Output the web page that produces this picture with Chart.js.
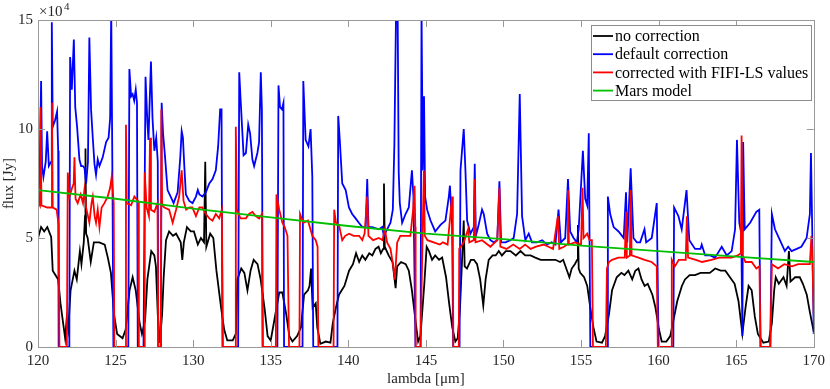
<!DOCTYPE html>
<html>
<head>
<meta charset="utf-8">
<script src="https://cdn.jsdelivr.net/npm/chart.js@4.4.1/dist/chart.umd.min.js"></script>
<style>
  html, body { margin: 0; padding: 0; background: #fff; }
</style>
</head>
<body>
<canvas id="fluxCanvas" width="830" height="389"></canvas>
<script>
// flux values are in units of 1e4 Jy (axis shows x10^4)
const xTickValues = [120, 125, 130, 135, 140, 145, 150, 155, 160, 165, 170];
const yTickValues = [0, 5, 10, 15];

const lamNoCorr = [120.0,120.2,120.4,120.6,120.85,120.95,121.3,121.45,121.6,121.75,121.85,121.95,122.1,122.35,122.5,122.7,122.8,122.95,123.03,123.06,123.1,123.2,123.4,123.6,123.95,124.3,124.5,124.7,124.9,125.1,125.45,125.65,125.9,126.1,126.3,126.55,126.7,126.9,127.05,127.3,127.5,127.6,127.72,127.85,128.0,128.1,128.25,128.45,128.7,128.9,129.2,129.3,129.4,129.6,129.85,130.05,130.3,130.5,130.7,130.78,130.85,131.1,131.3,131.5,131.8,132.0,132.2,132.55,132.75,132.85,133.1,133.3,133.5,133.7,133.9,134.15,134.35,134.6,134.8,135.0,135.2,135.55,135.75,136.0,136.2,136.4,136.7,136.95,137.15,137.4,137.5,137.6,137.7,137.9,138.0,138.2,138.55,138.85,139.0,139.2,139.4,139.75,140.05,140.3,140.5,140.7,140.9,141.1,141.35,141.55,141.75,141.95,142.1,142.25,142.3,142.35,142.6,142.85,143.05,143.15,143.4,143.7,143.9,144.1,144.35,144.5,144.65,144.9,145.05,145.2,145.4,145.6,145.85,146.05,146.3,146.5,146.7,146.9,147.05,147.2,147.35,147.44,147.5,147.65,147.9,148.1,148.3,148.5,148.7,148.85,149.05,149.3,149.5,149.7,149.9,150.15,150.45,150.8,151.1,151.4,151.75,152.05,152.4,152.9,153.35,153.65,153.85,154.1,154.25,154.4,154.6,154.75,154.8,154.85,154.95,155.2,155.4,155.6,155.8,156.0,156.35,156.55,156.8,157.0,157.3,157.6,157.8,158.05,158.3,158.5,158.7,158.9,159.1,159.3,159.6,159.8,160.0,160.2,160.5,160.75,160.95,161.2,161.5,161.7,162.0,162.35,162.7,163.0,163.3,163.65,164.0,164.3,164.6,164.9,165.15,165.4,165.6,165.8,166.0,166.2,166.4,166.75,167.1,167.3,167.45,167.55,167.75,168.05,168.25,168.4,168.5,168.8,169.1,169.3,169.55,169.75,170.0];
const fluxNoCorr = [5.0,5.5,5.3,5.5,5.05,3.5,3.1,2.0,1.2,0.4,1.3,0.8,2.6,3.5,3.1,4.4,3.8,4.8,6.0,9.1,5.2,5.0,3.9,4.8,4.8,4.7,4.1,3.4,1.5,0.6,0.4,0.8,2.6,3.2,2.6,1.1,0.6,1.2,3.1,4.4,4.2,3.7,1.5,0.2,1.5,3.2,4.9,5.3,5.1,5.2,4.8,4.0,4.8,5.5,5.3,5.3,4.7,5.0,4.8,8.5,4.6,5.2,5.0,3.5,1.8,0.8,0.3,0.3,0.6,3.1,3.6,3.4,2.6,3.5,4.0,3.8,3.1,1.8,0.5,0.3,1.1,2.5,2.5,1.5,0.5,0.25,0.5,0.9,2.4,2.6,2.8,3.6,1.8,2.0,0.9,0.15,0.25,0.2,1.1,1.8,2.4,2.8,3.5,3.8,4.3,3.9,4.2,4.0,4.3,4.2,4.5,4.6,4.3,4.5,7.5,4.6,4.2,3.9,2.7,3.7,3.9,3.8,3.5,2.6,1.1,0.25,0.5,2.9,4.6,4.4,4.0,4.2,4.0,4.1,3.2,2.0,0.9,0.25,0.4,1.8,4.3,5.8,3.7,3.6,4.0,4.0,3.8,3.1,1.9,3.1,4.0,4.2,4.2,4.4,4.2,4.4,4.4,4.2,4.4,4.2,4.2,4.1,4.0,4.0,4.0,3.9,4.0,3.5,3.2,3.6,3.8,4.0,5.6,3.6,3.4,3.2,2.8,1.8,0.9,0.25,0.2,0.5,1.5,2.6,3.2,3.4,3.3,3.5,3.1,3.5,3.6,3.1,2.8,2.9,2.4,1.8,0.9,0.25,0.25,0.5,1.2,2.1,2.8,3.1,3.3,3.3,3.4,3.4,3.4,3.6,3.5,3.5,3.2,2.9,2.1,0.6,1.8,2.8,2.6,1.4,0.6,0.2,0.25,1.1,2.6,3.2,2.9,3.2,2.8,4.4,3.0,3.2,3.2,2.9,2.4,1.6,0.7];

const lamDefault = [120.0,120.1,120.2,120.26,120.35,120.5,120.59,120.7,120.85,120.89,120.95,121.1,121.23,121.3,121.33,122.02,122.07,122.18,122.31,122.4,122.52,122.67,122.78,122.9,123.0,123.1,123.22,123.31,123.42,123.53,123.64,123.74,123.85,123.96,124.17,124.39,124.55,124.65,124.72,124.8,124.86,125.82,125.89,126.0,126.1,126.2,126.3,126.38,126.43,126.8,126.93,127.05,127.12,127.28,127.38,127.5,127.62,127.72,127.75,127.92,127.97,128.06,128.19,128.35,128.55,128.74,129.0,129.17,129.26,129.34,129.43,129.53,129.75,129.96,130.18,130.3,130.4,130.6,130.82,131.04,131.25,131.46,131.61,131.74,131.83,131.89,132.9,132.97,133.07,133.25,133.4,133.55,133.67,133.82,133.93,134.14,134.25,134.36,134.43,134.49,135.43,135.5,135.6,135.72,135.82,135.86,137.05,137.1,137.25,137.43,137.57,137.68,137.74,139.3,139.35,139.45,139.61,139.83,140.04,140.25,140.47,140.68,140.9,141.12,141.22,141.3,141.55,141.97,142.19,142.29,142.5,142.72,142.87,142.97,143.08,143.18,143.25,143.32,143.47,143.69,143.9,144.1,144.2,144.33,144.66,144.72,144.8,144.88,144.95,145.08,145.3,145.6,145.94,146.26,146.48,146.55,146.69,146.76,147.17,147.23,147.44,147.55,147.66,147.87,148.09,148.15,148.22,148.37,148.62,148.73,148.95,149.16,149.38,149.6,149.74,149.85,150.13,150.45,150.66,150.88,151.05,151.2,151.41,151.63,151.84,152.16,152.5,152.8,153.1,153.35,153.55,153.7,153.98,154.16,154.3,154.52,154.73,154.85,155.12,155.27,155.4,155.5,155.6,156.7,156.73,156.88,157.1,157.42,157.75,157.9,157.98,158.2,158.38,158.6,158.81,159.09,159.2,159.56,159.88,160.0,160.95,161.0,161.28,161.49,161.8,161.98,162.35,162.7,162.78,163.0,163.32,163.64,164.07,164.39,164.71,164.93,165.05,165.2,165.33,165.4,165.45,165.55,165.9,166.3,166.49,166.57,167.2,167.3,167.5,167.82,168.14,168.35,168.57,168.9,169.2,169.54,169.75,169.82,169.9,170.0];
const fluxDefault = [7.2,7.5,12.2,8.3,7.8,8.5,9.9,8.3,8.5,14.9,10.1,10.4,10.8,9.0,0,0,13.3,11.8,14.1,11.0,10.1,8.6,8.3,8.3,8.2,7.5,8.5,14.2,10.9,9.6,8.4,7.9,8.6,8.3,8.7,9.4,9.6,10.5,15.5,7.5,0,0,12.75,11.5,11.6,11.3,11.8,11.2,0,0,12.4,10.3,9.5,13.1,10.5,9.0,9.6,8.5,0,0,11.2,9.8,8.7,7.2,6.9,6.6,7.1,8.7,9.9,9.6,8.3,7.0,6.7,6.6,6.9,7.2,7.0,6.9,7.1,7.5,7.7,8.1,9.2,10.9,10.9,0,0,12.6,11.2,8.8,8.9,10.2,9.8,8.6,8.3,8.9,9.4,12.6,10.9,0,0,12.0,11.0,10.9,11.2,0,0,12.2,9.5,9.2,10.0,7.8,0,0,10.6,9.5,7.5,7.2,6.4,6.1,5.9,5.7,5.5,5.5,7.7,5.5,5.5,5.4,5.5,5.1,5.4,5.7,6.3,9.3,15.5,15.5,8.0,6.6,5.7,6.1,6.4,8.1,6.9,0,0,15.5,8.1,11.5,6.9,6.3,5.8,5.3,5.6,5.8,6.9,7.4,5.6,0,0,8.1,10.0,8.1,5.8,5.2,5.5,8.4,5.1,5.5,6.3,6.1,5.2,4.9,4.8,4.9,7.6,4.8,4.8,4.9,5.0,6.1,11.6,6.0,4.9,5.2,4.8,4.8,4.9,4.7,4.8,4.7,6.3,4.8,5.0,7.7,5.3,5.0,4.8,5.4,9.0,6.8,6.5,9.8,0,0,6.9,6.1,5.5,5.3,5.0,7.1,4.8,8.2,5.0,4.8,4.8,5.4,4.8,5.0,6.6,0,0,6.4,6.0,5.4,7.2,4.9,4.5,4.5,4.7,4.2,4.2,4.1,4.6,4.2,4.4,5.4,9.5,5.7,5.2,0.5,9.4,5.4,5.7,6.2,6.3,0,0,6.1,5.4,4.9,4.4,4.6,4.4,4.5,4.6,5.0,6.1,8.9,5.5,0.6];

const lamFifi = [120.0,120.12,120.17,120.22,120.6,120.85,120.9,120.95,121.2,121.33,121.38,121.86,121.92,122.03,122.2,122.3,122.35,122.42,122.56,122.75,122.9,122.99,123.1,123.31,123.45,123.53,123.65,123.74,123.85,123.96,124.1,124.28,124.49,124.65,124.75,124.88,124.92,125.64,125.67,125.72,126.0,126.21,126.45,126.5,126.85,126.88,127.0,127.15,127.22,127.28,127.5,127.7,127.76,127.92,127.95,128.0,128.14,128.45,128.68,128.9,129.1,129.26,129.38,129.55,129.75,129.95,130.18,130.4,130.6,130.82,131.04,131.25,131.46,131.68,131.85,131.92,132.7,132.75,132.82,133.05,133.4,133.6,133.82,134.04,134.25,134.43,134.47,135.33,135.37,135.55,135.75,135.9,136.08,136.18,136.85,136.89,137.1,137.4,137.68,137.9,138.02,138.07,139.05,139.09,139.2,139.4,139.61,139.8,140.05,140.35,140.7,140.9,141.05,141.22,141.3,141.6,141.97,142.2,142.36,142.5,142.72,142.9,143.0,143.15,143.35,143.65,144.0,144.18,144.27,144.32,144.34,144.65,144.87,144.93,145.1,145.5,145.9,146.1,146.4,146.69,146.74,146.77,147.12,147.15,147.44,147.72,147.8,148.09,148.15,148.2,148.62,149.16,149.6,149.74,149.8,150.2,150.63,151.05,151.4,151.75,152.1,152.6,152.9,153.2,153.51,153.6,153.9,154.1,154.16,154.22,154.6,155.0,155.1,155.16,155.4,155.55,155.7,155.77,156.6,156.67,156.8,157.0,157.4,157.82,157.9,157.95,158.15,158.2,158.26,158.7,159.1,159.55,159.88,159.95,160.82,160.85,161.05,161.3,161.75,161.82,161.9,162.4,162.8,163.4,163.9,164.3,164.7,165.1,165.3,165.35,165.4,165.6,166.0,166.3,166.5,166.57,167.2,167.3,167.7,168.1,168.6,169.0,169.4,169.75,169.85,169.92,170.0];
const fluxFifi = [6.7,6.5,11.0,6.5,6.4,6.4,11.2,6.4,6.3,5.6,0,0,8.0,6.9,7.3,7.5,8.7,6.8,6.6,7.0,6.6,7.2,6.4,5.7,6.6,6.9,6.0,5.7,6.3,5.5,6.4,6.6,6.9,7.3,7.8,6.6,0,0,10.2,6.6,6.5,6.9,6.7,0,0,8.0,6.4,6.0,9.6,6.3,6.2,6.6,0,0,10.9,6.5,6.4,6.3,5.7,6.3,6.9,8.1,6.7,6.3,6.4,6.4,6.0,6.4,6.4,6.1,5.9,5.8,6.1,5.9,6.3,0,0,10.1,6.3,5.9,5.9,6.1,6.2,6.0,5.9,6.1,0,0,7.0,6.3,5.7,5.5,5.1,0,0,6.1,5.7,5.8,5.1,4.9,4.6,0,0,6.3,5.7,5.6,4.9,5.1,5.2,5.1,5.1,4.9,5.2,6.9,5.1,4.9,5.0,4.9,5.4,4.8,4.5,3.7,3.1,4.8,5.1,5.1,5.1,6.3,7.4,5.5,0,0,8.1,5.1,4.9,4.8,4.7,4.8,4.7,6.9,4.6,0,0,4.5,4.8,5.4,4.8,4.9,7.7,4.8,4.9,4.6,4.9,7.3,4.6,4.5,4.7,4.5,4.7,4.5,4.6,4.7,4.6,4.5,6.0,4.5,4.6,4.7,7.2,4.7,4.8,4.7,7.3,5.0,5.2,4.9,4.9,0,0,3.6,3.9,4.0,4.1,4.1,6.2,4.1,4.2,7.2,4.2,4.1,4.0,3.9,3.7,0,0,4.0,3.7,4.0,4.0,6.0,4.1,4.0,3.9,4.0,4.1,4.1,4.1,4.2,4.3,9.7,4.2,3.9,3.9,3.6,3.7,0,0,3.8,3.6,3.8,3.7,3.8,3.8,3.8,5.1,3.8,1.5];

const lamMars = [120, 125, 130, 135, 140, 145, 150, 155, 160, 165, 170];
const fluxMars = [7.2, 6.8, 6.35, 5.95, 5.55, 5.2, 4.95, 4.65, 4.4, 4.15, 3.9];

const seriesNames = ['no correction', 'default correction', 'corrected with FIFI-LS values', 'Mars model'];
const seriesColors = ['#000000', '#0000ff', '#ff0000', '#00c000'];

const fontFamily = '"Liberation Serif", "Times New Roman", serif';
const axisGray = '#999999';
const textColor = '#262626';

function toPoints(xs, ys) {
  return xs.map((x, i) => ({ x: x, y: ys[i] }));
}

function lineSet(i, xs, ys, order) {
  return {
    label: seriesNames[i],
    data: toPoints(xs, ys),
    borderColor: seriesColors[i],
    backgroundColor: seriesColors[i],
    borderWidth: 1.8,
    pointRadius: 0,
    tension: 0,
    order: order,
    clip: { left: 0, right: 0, top: 0, bottom: 2 }
  };
}

// axes box, inward ticks, exponent label and legend (MATLAB look)
const matlabFrame = {
  id: 'matlabFrame',
  afterDraw(chart) {
    const ctx = chart.ctx;
    const a = chart.chartArea;
    const xs = chart.scales.x;
    const ys = chart.scales.y;
    const tl = 7;
    ctx.save();
    ctx.strokeStyle = axisGray;
    ctx.lineWidth = 1;
    ctx.strokeRect(Math.round(a.left) + 0.5, Math.round(a.top) + 0.5,
      Math.round(a.right - a.left), Math.round(a.bottom - a.top));
    ctx.beginPath();
    xTickValues.forEach(v => {
      const px = Math.round(xs.getPixelForValue(v)) + 0.5;
      ctx.moveTo(px, a.bottom); ctx.lineTo(px, a.bottom - tl);
      ctx.moveTo(px, a.top); ctx.lineTo(px, a.top + tl);
    });
    yTickValues.forEach(v => {
      const py = Math.round(ys.getPixelForValue(v)) + 0.5;
      ctx.moveTo(a.left, py); ctx.lineTo(a.left + tl, py);
      ctx.moveTo(a.right, py); ctx.lineTo(a.right - tl, py);
    });
    ctx.stroke();

    // x10^4 multiplier
    ctx.fillStyle = textColor;
    ctx.textBaseline = 'alphabetic';
    ctx.textAlign = 'left';
    ctx.font = '15px ' + fontFamily;
    ctx.fillText('\u00d710', a.left + 1, 16);
    ctx.font = '11px ' + fontFamily;
    ctx.fillText('4', a.left + 26, 10);

    // legend
    const lx = 591, ly = 25, lw = 220, lh = 75;
    ctx.fillStyle = '#ffffff';
    ctx.fillRect(lx, ly, lw, lh);
    ctx.strokeStyle = '#8c8c8c';
    ctx.lineWidth = 1;
    ctx.strokeRect(lx + 0.5, ly + 0.5, lw, lh);
    ctx.font = '16px ' + fontFamily;
    ctx.textBaseline = 'middle';
    seriesNames.forEach((name, i) => {
      const cy = 36 + i * 18.2;
      ctx.strokeStyle = seriesColors[i];
      ctx.lineWidth = 1.8;
      ctx.beginPath();
      ctx.moveTo(lx + 2, cy);
      ctx.lineTo(lx + 22, cy);
      ctx.stroke();
      ctx.fillStyle = '#000000';
      ctx.fillText(name, lx + 24, cy + 1);
    });
    ctx.restore();
  }
};

new Chart(document.getElementById('fluxCanvas').getContext('2d'), {
  type: 'line',
  data: {
    datasets: [
      lineSet(0, lamNoCorr, fluxNoCorr, 4),
      lineSet(1, lamDefault, fluxDefault, 3),
      lineSet(2, lamFifi, fluxFifi, 2),
      lineSet(3, lamMars, fluxMars, 1)
    ]
  },
  options: {
    responsive: false,
    animation: false,
    devicePixelRatio: 1,
    layout: { padding: { left: 0, right: 14, top: 20, bottom: 0 } },
    plugins: {
      legend: { display: false },
      tooltip: { enabled: false }
    },
    scales: {
      x: {
        type: 'linear',
        min: 120,
        max: 170,
        afterFit: s => { s.height = 42; },
        afterBuildTicks: s => { s.ticks = xTickValues.map(v => ({ value: v })); },
        ticks: {
          font: { family: fontFamily, size: 15 },
          color: textColor,
          padding: 5,
          maxRotation: 0
        },
        grid: { display: false, drawTicks: false },
        border: { display: false },
        title: {
          display: true,
          text: 'lambda [\u03bcm]',
          font: { family: fontFamily, size: 15 },
          color: textColor,
          padding: { top: 0, bottom: 1 }
        }
      },
      y: {
        type: 'linear',
        min: 0,
        max: 15,
        afterFit: s => { s.width = 38; },
        afterBuildTicks: s => { s.ticks = yTickValues.map(v => ({ value: v })); },
        ticks: {
          font: { family: fontFamily, size: 15 },
          color: textColor,
          padding: 5
        },
        grid: { display: false, drawTicks: false },
        border: { display: false },
        title: {
          display: true,
          text: 'flux [Jy]',
          font: { family: fontFamily, size: 15 },
          color: textColor,
          padding: { top: 0, bottom: 0 }
        }
      }
    }
  },
  plugins: [matlabFrame]
});
</script>
</body>
</html>
